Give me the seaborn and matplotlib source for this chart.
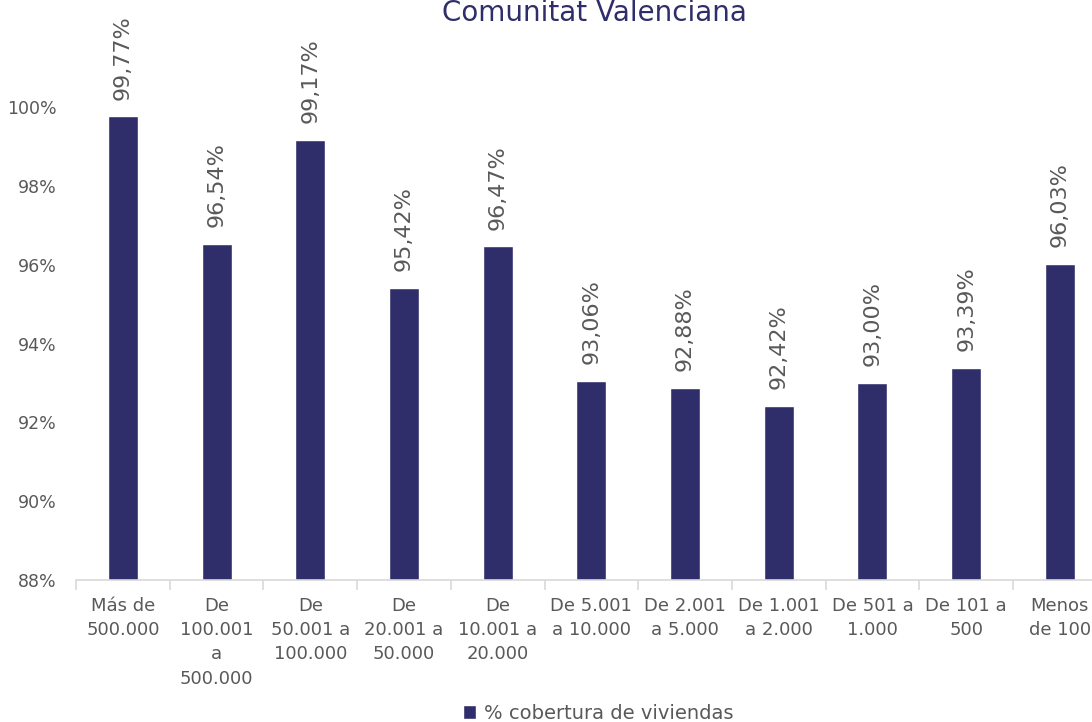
import matplotlib
matplotlib.use("Agg")
import matplotlib.pyplot as plt
import seaborn as sns
import pandas as pd
import numpy as np

# datos
categorias = ["Más de\n500.000", "De\n100.001\na\n500.000", "De\n50.001 a\n100.000",
              "De\n20.001 a\n50.000", "De\n10.001 a\n20.000", "De 5.001\na 10.000",
              "De 2.001\na 5.000", "De 1.001\na 2.000", "De 501 a\n1.000",
              "De 101 a\n500", "Menos\nde 100"]
cobertura = [99.77, 96.54, 99.17, 95.42, 96.47, 93.06, 92.88, 92.42, 93.00, 93.39, 96.03]
etiquetas = ["99,77%", "96,54%", "99,17%", "95,42%", "96,47%", "93,06%",
             "92,88%", "92,42%", "93,00%", "93,39%", "96,03%"]
yticks = [88, 90, 92, 94, 96, 98, 100]

azul = "#2F2E6B"
gris = "#595959"

sns.set_style("white")
plt.rcParams['font.family'] = ['DejaVu Sans']

df = pd.DataFrame({"rango": categorias, "cobertura": cobertura})

fig = plt.figure(figsize=(10.92, 7.22), dpi=100)
ax = fig.add_axes([76 / 1092, 142 / 722, 11 * 93.7 / 1092, 512 / 722])

sns.barplot(data=df, x="rango", y="cobertura", color=azul, width=0.32,
            saturation=1, ax=ax, label="% cobertura de viviendas")

ax.set_ylim(88, 101)
ax.set_xlim(-0.5, len(categorias) - 0.5)
ax.set_yticks(yticks)
ax.set_yticklabels([f"{v}%" for v in yticks], color=gris, fontsize=12.5)
ax.set_xlabel("")
ax.set_ylabel("")

ax.tick_params(axis="x", which="major", length=0, pad=12, labelsize=13, labelcolor=gris)
ax.tick_params(axis="y", length=0, pad=14)
for t in ax.get_xticklabels():
    t.set_linespacing(1.45)
    t.set_va("top")
ax.set_xticks(np.arange(-0.5, len(categorias), 1), minor=True)
ax.tick_params(axis="x", which="minor", bottom=True, length=7, color="#D9D9D9", width=1.2)

for s in ["top", "right", "left"]:
    ax.spines[s].set_visible(False)
ax.spines["bottom"].set_color("#D9D9D9")
ax.spines["bottom"].set_linewidth(1.2)

ax.bar_label(ax.containers[0], labels=etiquetas, rotation=90, padding=12,
             fontsize=16, color=gris)

fig.text(594 / 1092, (722 - 21) / 722, "Comunitat Valenciana", ha="center",
         va="baseline", fontsize=20, color=azul)

ax.legend(loc="lower center", bbox_to_anchor=(598 / 1092, -0.025),
          bbox_transform=fig.transFigure, frameon=False, fontsize=14,
          labelcolor=gris, handlelength=0.7, handleheight=0.7, handletextpad=0.4)

fig.savefig("out.png", dpi=100)
